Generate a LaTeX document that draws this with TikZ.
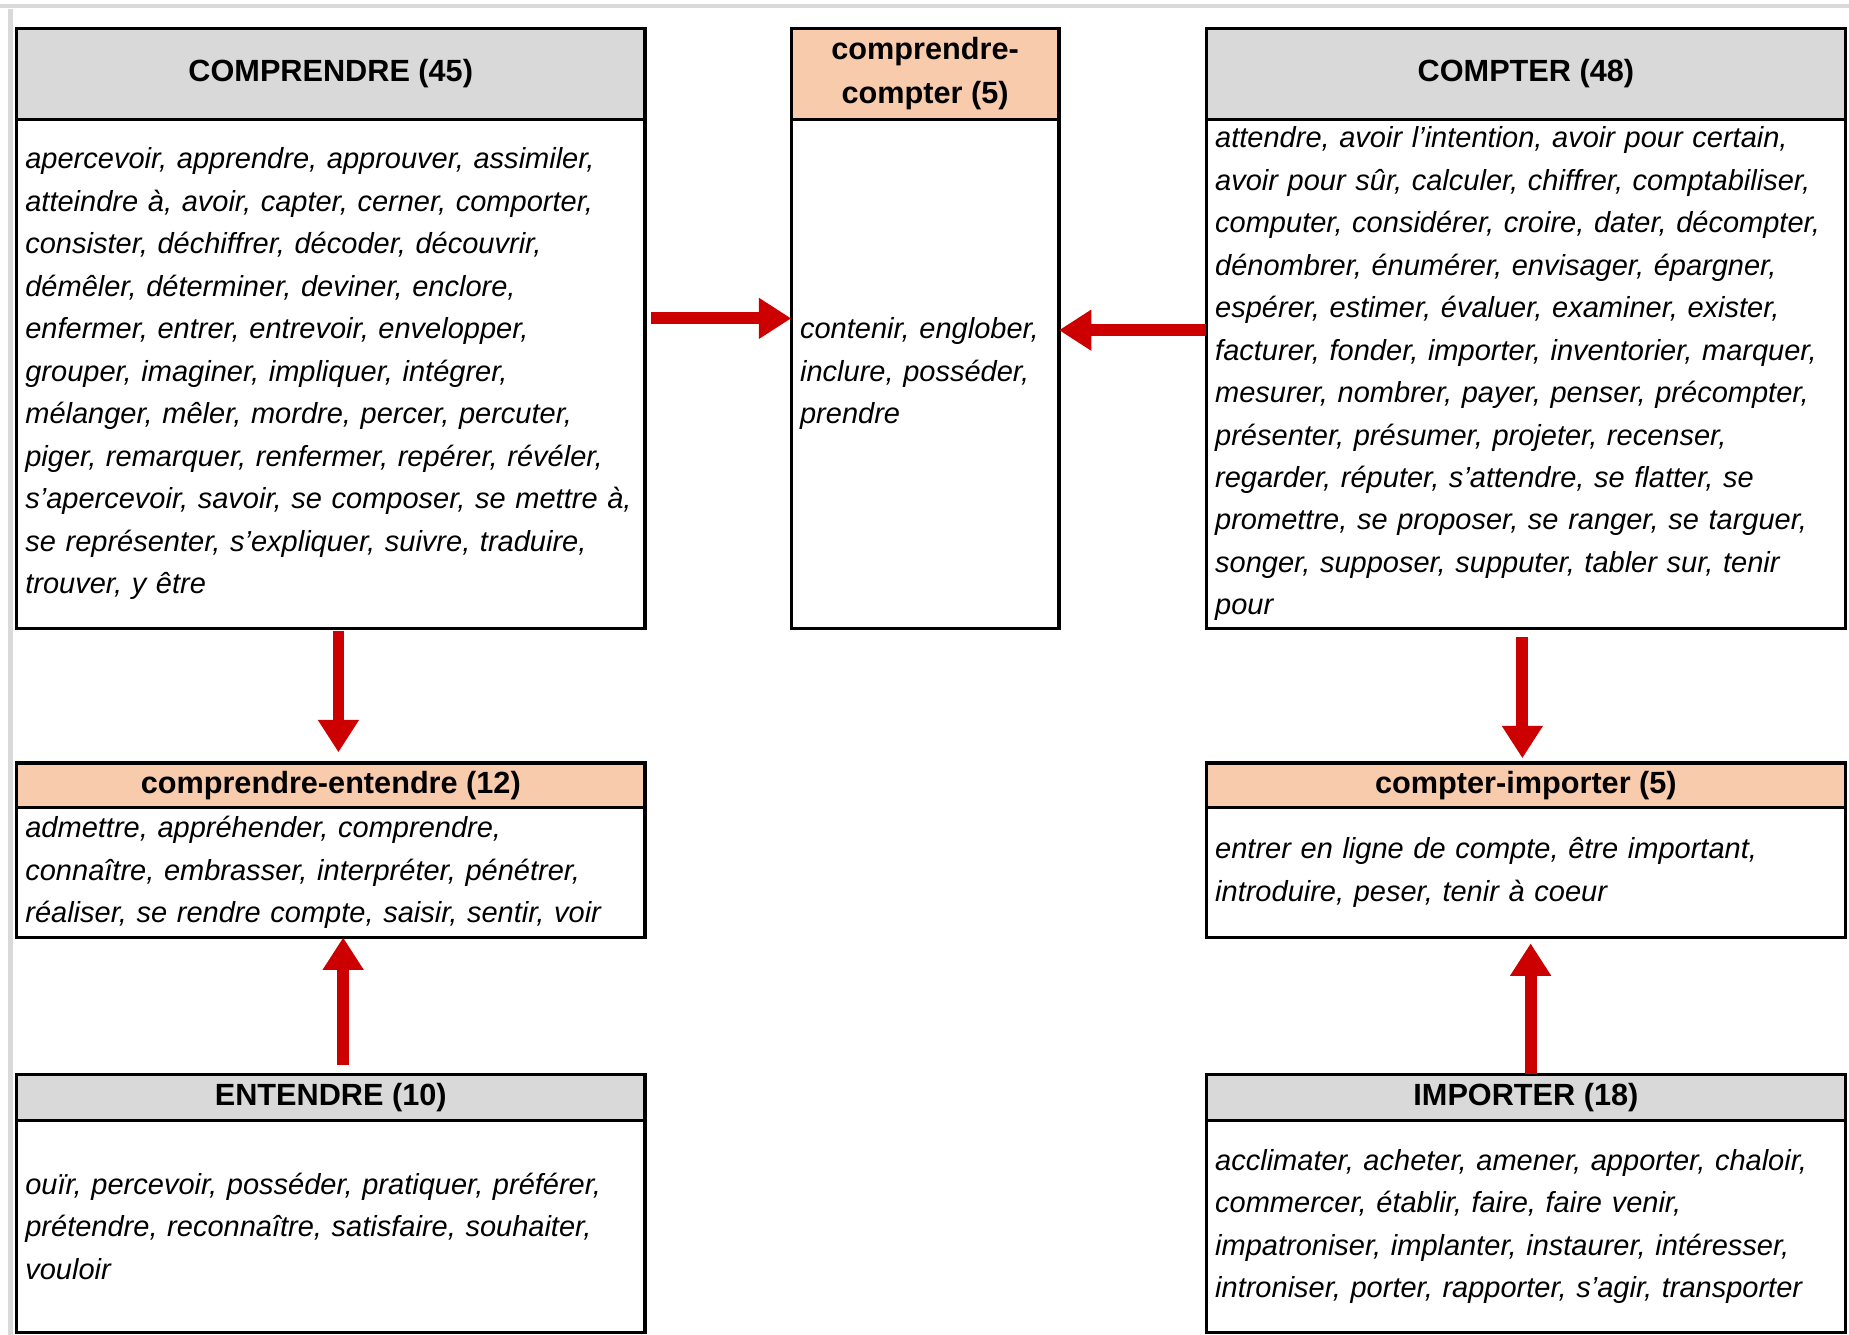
\documentclass[tikz,border=0pt]{standalone}
\usepackage{fontspec}
\setmainfont{Liberation Sans}
\usetikzlibrary{positioning,arrows.meta}
\definecolor{headgray}{RGB}{217,217,217}
\definecolor{headpeach}{RGB}{248,203,173}
\definecolor{arrowred}{RGB}{204,0,0}

\begin{document}
\begin{tikzpicture}[x=0.2mm,y=-0.2mm,
  box/.style={draw=black, line width=1.5pt, outer sep=0pt, inner sep=0pt},
  head/.style={box, fill=headgray, font=\bfseries\fontsize{14.8}{21}\selectfont, align=center},
  pair/.style={box, fill=headpeach, font=\bfseries\fontsize{14.8}{21}\selectfont, align=center},
  body/.style={box, font=\itshape\fontsize{14}{20.5}\selectfont, align=left, inner xsep=1.5mm},
  link/.style={draw=arrowred, line width=2mm, -{Triangle[width=6.6mm,length=5.5mm]}},
  frame/.style={draw=gray!30, line width=0.8mm}
]
\useasboundingbox (0,0) rectangle (1568,1132);
\draw[frame] (0,5) -- (1568,5);
\draw[frame] (9,8) -- (9,1132);

% top row
\node[head, anchor=north west, minimum width=106.6mm, minimum height=15.4mm] (comprH) at (14,24) {COMPRENDRE (45)};
\node[body, below=0pt of comprH, minimum height=86.4mm, text width=103.6mm] (comprB) {apercevoir, apprendre, approuver, assimiler,\\
atteindre à, avoir, capter, cerner, comporter,\\
consister, déchiffrer, décoder, découvrir,\\
démêler, déterminer, deviner, enclore,\\
enfermer, entrer, entrevoir, envelopper,\\
grouper, imaginer, impliquer, intégrer,\\
mélanger, mêler, mordre, percer, percuter,\\
piger, remarquer, renfermer, repérer, révéler,\\
s'apercevoir, savoir, se composer, se mettre~à,\\
se représenter, s'expliquer, suivre, traduire,\\
trouver, y être};

\node[pair, anchor=north west, minimum width=45.4mm, minimum height=15.4mm] (midH) at (671,24) {comprendre-\\compter (5)};
\node[body, below=0pt of midH, minimum height=86.4mm, text width=42.4mm] (midB) {contenir, englober,\\
inclure, posséder,\\
prendre};

\node[head, anchor=north west, minimum width=108.4mm, minimum height=15.4mm] (comptH) at (1023,24) {COMPTER (48)};
\node[body, below=0pt of comptH, minimum height=86.4mm, text width=105.4mm] (comptB) {attendre, avoir l'intention, avoir pour certain,\\
avoir pour sûr, calculer, chiffrer, comptabiliser,\\
computer, considérer, croire, dater, décompter,\\
dénombrer, énumérer, envisager, épargner,\\
espérer, estimer, évaluer, examiner, exister,\\
facturer, fonder, importer, inventorier, marquer,\\
mesurer, nombrer, payer, penser, précompter,\\
présenter, présumer, projeter, recenser,\\
regarder, réputer, s'attendre, se flatter, se\\
promettre, se proposer, se ranger, se targuer,\\
songer, supposer, supputer, tabler sur, tenir\\
pour};

% middle row
\node[pair, anchor=north west, minimum width=106.6mm, minimum height=7.6mm] (ceH) at (14,647) {comprendre-entendre (12)};
\node[body, below=0pt of ceH, minimum height=22mm, text width=103.6mm] (ceB) {admettre, appréhender, comprendre,\\
connaître, embrasser, interpréter, pénétrer,\\
réaliser, se rendre compte, saisir, sentir, voir};

\node[pair, anchor=north west, minimum width=108.4mm, minimum height=7.6mm] (ciH) at (1023,647) {compter-importer (5)};
\node[body, below=0pt of ciH, minimum height=22mm, text width=105.4mm] (ciB) {entrer en ligne de compte, être important,\\
introduire, peser, tenir à coeur};

% bottom row
\node[head, anchor=north west, minimum width=106.6mm, minimum height=7.8mm] (entH) at (14,911) {ENTENDRE (10)};
\node[body, below=0pt of entH, minimum height=36mm, text width=103.6mm] (entB) {ouïr, percevoir, posséder, pratiquer, préférer,\\
prétendre, reconnaître, satisfaire, souhaiter,\\
vouloir};

\node[head, anchor=north west, minimum width=108.4mm, minimum height=7.8mm] (impH) at (1023,911) {IMPORTER (18)};
\node[body, below=0pt of impH, minimum height=36mm, text width=105.4mm] (impB) {acclimater, acheter, amener, apporter, chaloir,\\
commercer, établir, faire, faire venir,\\
impatroniser, implanter, instaurer, intéresser,\\
introniser, porter, rapporter, s'agir, transporter};

% arrows
\draw[link, shorten <=1mm] ([yshift=9.4mm]comprB.east) -- ([yshift=9.4mm]midB.west);
\draw[link] ([yshift=7.4mm]comptB.west) -- ([yshift=7.4mm]midB.east);
\draw[link, shorten <=0.4mm, shorten >=1.8mm] ([xshift=1.3mm]comprB.south) -- ([xshift=1.3mm]ceH.north);
\draw[link, shorten <=1.6mm] ([xshift=2.1mm]entH.north) -- ([xshift=2.1mm]ceB.south);
\draw[link, shorten <=1.4mm, shorten >=0.8mm] ([xshift=-0.6mm]comptB.south) -- ([xshift=-0.6mm]ciH.north);
\draw[link, shorten >=1mm] ([xshift=0.8mm]impH.north) -- ([xshift=0.8mm]ciB.south);
\end{tikzpicture}
\end{document}
